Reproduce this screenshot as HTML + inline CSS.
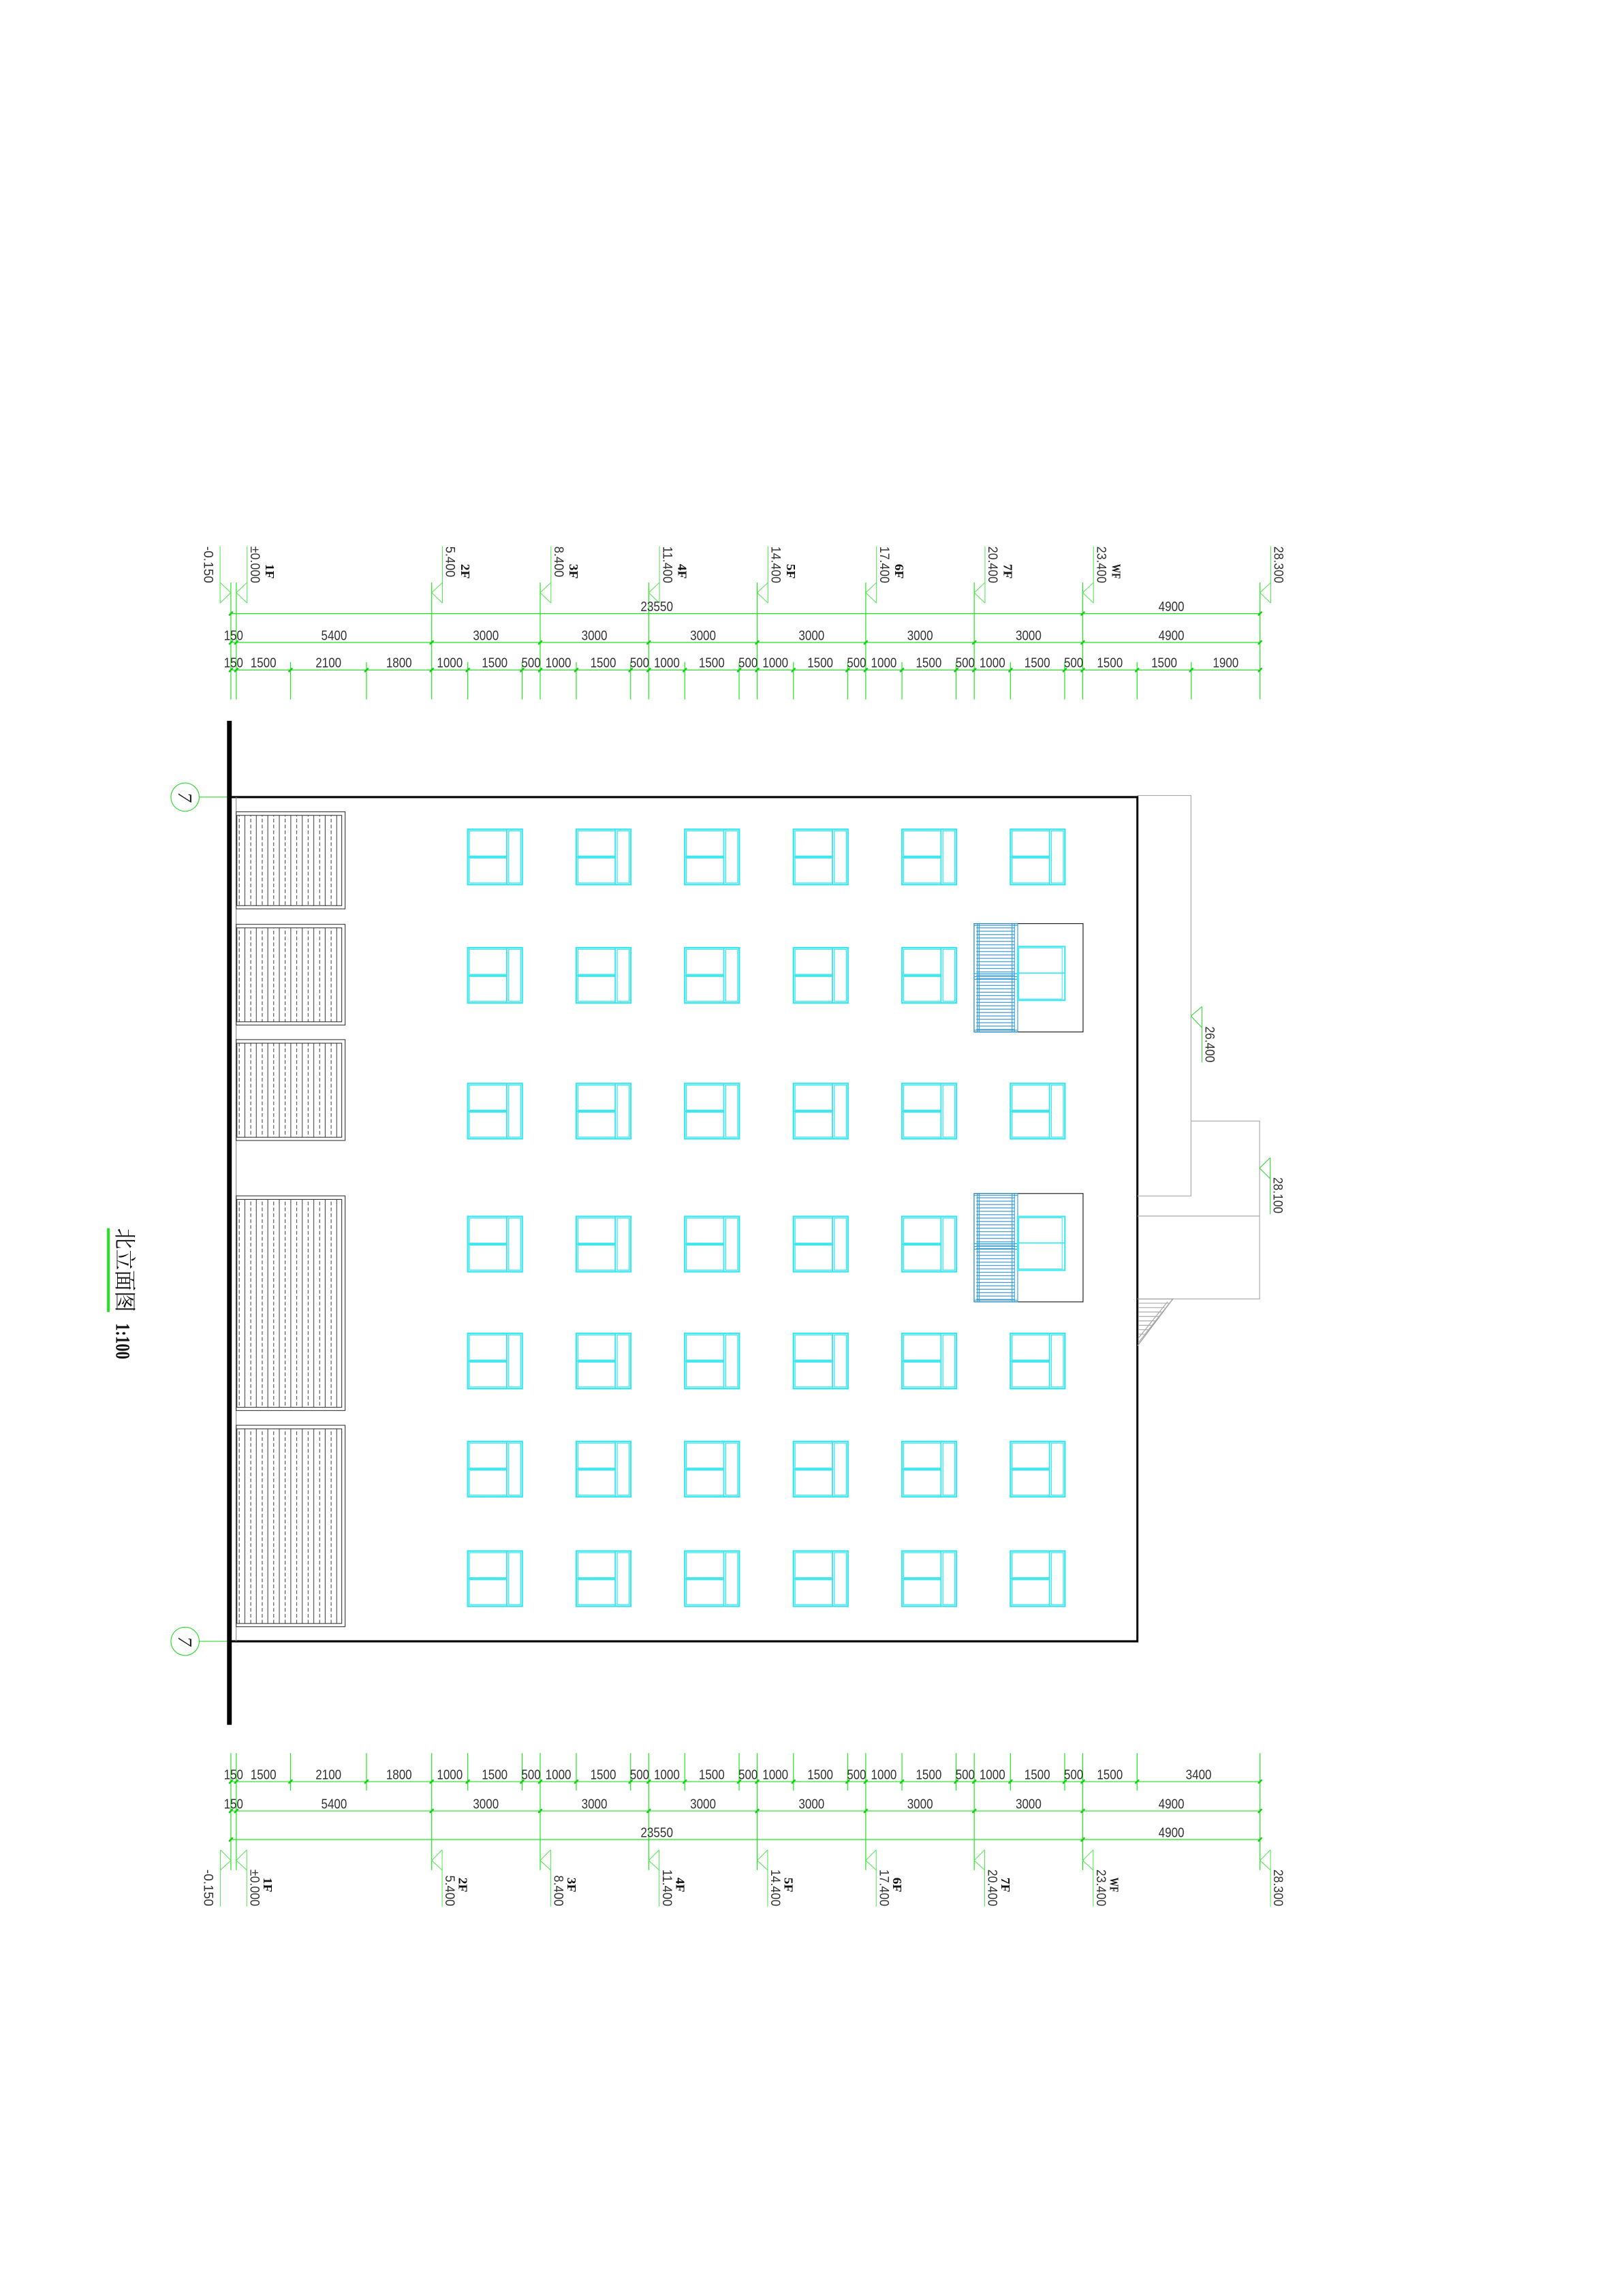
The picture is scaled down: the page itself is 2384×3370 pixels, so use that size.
<!DOCTYPE html>
<html><head><meta charset="utf-8"><style>
html,body{margin:0;padding:0;background:#fff;}
svg{display:block;}
.d{font-family:"Liberation Sans",sans-serif;font-size:9.5px;fill:#333;text-anchor:middle;}
.l{font-family:"Liberation Sans",sans-serif;font-size:9px;fill:#333;}
.f{font-family:"Liberation Serif",serif;font-size:8.5px;font-weight:bold;fill:#111;}
</style></head><body>
<svg width="2384" height="3370" viewBox="0 0 1103 1559.2" preserveAspectRatio="none" xmlns="http://www.w3.org/2000/svg">
<defs>
<path id="t" d="M-1.3,1.3L1.3,-1.3" stroke="#10d010" stroke-width="1.1"/>
<pattern id="lv" patternUnits="userSpaceOnUse" x="162.2" y="0" width="7.8" height="4">
<line x1="0.3" y1="0" x2="0.3" y2="2.5" stroke="#333" stroke-width="0.45"/>
<line x1="4.1" y1="0" x2="4.1" y2="4" stroke="#555" stroke-width="0.55"/>
</pattern>
<pattern id="bh" patternUnits="userSpaceOnUse" x="0" y="0" width="10" height="2.3">
<line x1="0" y1="0.6" x2="10" y2="0.6" stroke="#2a8fd0" stroke-width="0.55"/>
</pattern>
<g id="w" fill="none" stroke="#3ee6ee">
<rect x="0" y="0" width="37" height="37.5" stroke-width="1.1"/>
<rect x="1.1" y="1.1" width="25.4" height="17" stroke-width="0.6"/>
<rect x="1.1" y="19.5" width="25.4" height="16.9" stroke-width="0.6"/>
<line x1="26.5" y1="0" x2="26.5" y2="37.5" stroke-width="0.9"/>
<line x1="0" y1="18.8" x2="26.5" y2="18.8" stroke-width="0.9"/>
<rect x="27.8" y="1.1" width="8.1" height="35.3" stroke-width="0.6"/>
</g>
<g id="b">
<rect x="0" y="0" width="74" height="73.6" fill="none" stroke="#222" stroke-width="0.55"/>
<rect x="1.5" y="1" width="26" height="71.6" fill="url(#bh)"/>
<g fill="none" stroke="#2a9ad8" stroke-width="0.5">
<rect x="0" y="0" width="29.6" height="73.6"/>
<line x1="2.2" y1="0" x2="2.2" y2="73.6"/><line x1="3.4" y1="0" x2="3.4" y2="73.6"/>
<line x1="25.8" y1="0" x2="25.8" y2="73.6"/><line x1="27.4" y1="0" x2="27.4" y2="73.6"/>
<line x1="0" y1="34" x2="29.6" y2="34"/><line x1="0" y1="36" x2="29.6" y2="36"/>
<line x1="0" y1="37.8" x2="29.6" y2="37.8"/><line x1="0" y1="1.2" x2="29.6" y2="1.2"/><line x1="0" y1="72.4" x2="29.6" y2="72.4"/>
</g>
<g fill="none" stroke="#3ee6ee">
<rect x="29.6" y="15.6" width="32.1" height="36.5" stroke-width="1"/>
<rect x="30.4" y="16.5" width="29.4" height="34.7" stroke-width="0.5"/>
<line x1="29.6" y1="33.6" x2="61.7" y2="33.6" stroke-width="0.8"/>
</g>
</g>
</defs>

<!-- title -->
<line x1="73.6" y1="834" x2="73.6" y2="891" stroke="#1ee61e" stroke-width="1.8"/>
<text transform="translate(79.5,834) rotate(90)" style="font-family:'Noto Serif CJK SC','Liberation Serif',serif;font-size:15px;fill:#111" textLength="57" lengthAdjust="spacingAndGlyphs">北立面图</text>
<text transform="translate(79,898.5) rotate(90)" style="font-family:'Liberation Serif',serif;font-size:13.5px;font-weight:bold;fill:#111" textLength="24.5" lengthAdjust="spacingAndGlyphs">1:100</text>

<!-- axis circles -->
<g fill="none" stroke="#30d830" stroke-width="0.55">
<circle cx="125.7" cy="541.3" r="9.6"/><line x1="135.3" y1="541.3" x2="155.8" y2="541.3"/>
<circle cx="125.7" cy="1114.6" r="9.6"/><line x1="135.3" y1="1114.6" x2="155.8" y2="1114.6"/>
</g>
<text transform="translate(121.2,541.3) rotate(90)" style="font-family:'Liberation Serif',serif;font-style:italic;font-size:13px;fill:#222;text-anchor:middle">7</text>
<text transform="translate(121.2,1114.6) rotate(90)" style="font-family:'Liberation Serif',serif;font-style:italic;font-size:13px;fill:#222;text-anchor:middle">7</text>

<!-- building -->
<line x1="155.8" y1="489.5" x2="155.8" y2="1171.3" stroke="#000" stroke-width="3.2"/>
<path d="M155.8,541.3H772.5V1114.6H155.8" fill="none" stroke="#000" stroke-width="1.4"/>
<line x1="160.4" y1="541.3" x2="160.4" y2="1114.6" stroke="#888" stroke-width="0.5"/>

<!-- right gray outline -->
<g fill="none" stroke="#aaa" stroke-width="0.55">
<path d="M772.5,540.2H808.9V812.2H772.5"/>
<path d="M808.9,761.3H855.5V882.1H772.5"/>
<path d="M772.5,825.8H855.5"/>
<path d="M772.5,882.1L796.6,882.1L772.5,914" stroke="#999"/>
<path d="M795,884L773,912M793,884L773,909"/>
<path d="M773,885H794M773,888H791M773,891H789M773,894H787M773,897H785M773,900H782M773,903H780M773,906H777"/>
</g>
<g fill="none" stroke="#30d830" stroke-width="0.5">
<path d="M808.9,690L816.3,683.6M808.9,690L816.3,697.8M816.3,683.6V721.5"/>
<path d="M855.5,793.3L862.7,786.2M855.5,793.3L862.7,800.4M862.7,786.2V824.6"/>
</g>
<text class="l" transform="translate(818.8,697) rotate(90)" textLength="24.5" lengthAdjust="spacingAndGlyphs">26.400</text>
<text class="l" transform="translate(865,799.5) rotate(90)" textLength="24.5" lengthAdjust="spacingAndGlyphs">28.100</text>

<!-- louvers -->
<g stroke="#333" stroke-width="0.5">
<rect x="160.4" y="551.3" width="74" height="65.9" fill="none"/><rect x="160.9" y="553.7" width="71.2" height="61.3" fill="url(#lv)"/>
<rect x="160.4" y="627.7" width="74" height="68.4" fill="none"/><rect x="160.9" y="630.1" width="71.2" height="63.8" fill="url(#lv)"/>
<rect x="160.4" y="706.0" width="74" height="68.5" fill="none"/><rect x="160.9" y="708.4" width="71.2" height="63.9" fill="url(#lv)"/>
<rect x="160.4" y="812.1" width="74" height="145.8" fill="none"/><rect x="160.9" y="814.5" width="71.2" height="141.2" fill="url(#lv)"/>
<rect x="160.4" y="967.9" width="74" height="136.8" fill="none"/><rect x="160.9" y="970.3" width="71.2" height="132.2" fill="url(#lv)"/>
</g>

<!-- windows -->
<g>
<use href="#w" x="317.7" y="563.2"/><use href="#w" x="391.4" y="563.2"/><use href="#w" x="465.1" y="563.2"/><use href="#w" x="538.9" y="563.2"/><use href="#w" x="612.6" y="563.2"/><use href="#w" x="686.3" y="563.2"/>
<use href="#w" x="317.7" y="643.6"/><use href="#w" x="391.4" y="643.6"/><use href="#w" x="465.1" y="643.6"/><use href="#w" x="538.9" y="643.6"/><use href="#w" x="612.6" y="643.6"/>
<use href="#w" x="317.7" y="735.8"/><use href="#w" x="391.4" y="735.8"/><use href="#w" x="465.1" y="735.8"/><use href="#w" x="538.9" y="735.8"/><use href="#w" x="612.6" y="735.8"/><use href="#w" x="686.3" y="735.8"/>
<use href="#w" x="317.7" y="826.1"/><use href="#w" x="391.4" y="826.1"/><use href="#w" x="465.1" y="826.1"/><use href="#w" x="538.9" y="826.1"/><use href="#w" x="612.6" y="826.1"/>
<use href="#w" x="317.7" y="905.5"/><use href="#w" x="391.4" y="905.5"/><use href="#w" x="465.1" y="905.5"/><use href="#w" x="538.9" y="905.5"/><use href="#w" x="612.6" y="905.5"/><use href="#w" x="686.3" y="905.5"/>
<use href="#w" x="317.7" y="978.9"/><use href="#w" x="391.4" y="978.9"/><use href="#w" x="465.1" y="978.9"/><use href="#w" x="538.9" y="978.9"/><use href="#w" x="612.6" y="978.9"/><use href="#w" x="686.3" y="978.9"/>
<use href="#w" x="317.7" y="1053.3"/><use href="#w" x="391.4" y="1053.3"/><use href="#w" x="465.1" y="1053.3"/><use href="#w" x="538.9" y="1053.3"/><use href="#w" x="612.6" y="1053.3"/><use href="#w" x="686.3" y="1053.3"/>
<use href="#b" x="661.6" y="627.2"/>
<use href="#b" x="661.6" y="810.5"/>
</g>

<!-- TOP DIMENSIONS -->
<g stroke="#1ee61e" stroke-width="0.55" fill="none">
<path d="M156.8,416.7H855.8M156.8,436.3H855.8M156.8,455H855.8"/>
<path d="M156.8,395.6V475M160.5,395.6V475M293.2,395.6V475M366.9,395.6V475M440.6,395.6V475M514.3,395.6V475M588,395.6V475M661.7,395.6V475M735.4,395.6V475M855.8,395.6V475"/>
<path d="M197.3,449.6V475M248.9,449.6V475M317.7,449.6V475M354.6,449.6V475M391.4,449.6V475M428.3,449.6V475M465.1,449.6V475M502,449.6V475M538.9,449.6V475M575.7,449.6V475M612.6,449.6V475M649.4,449.6V475M686.3,449.6V475M723.1,449.6V475M772.3,449.6V475M809.1,449.6V475"/>
</g>
<g stroke="#5de65d" stroke-width="0.5" fill="none">
<path d="M156.8,402.5L149.5,395.6M156.8,402.5L149.5,409.5M149.5,371V409.5"/>
<path d="M160.5,402.5l7.3,-6.9M160.5,402.5l7.3,7M167.8,371V409.5"/>
<path d="M293.2,402.5l7.3,-6.9M293.2,402.5l7.3,7M300.5,371V409.5"/>
<path d="M366.9,402.5l7.3,-6.9M366.9,402.5l7.3,7M374.2,371V409.5"/>
<path d="M440.6,402.5l7.3,-6.9M440.6,402.5l7.3,7M447.9,371V409.5"/>
<path d="M514.3,402.5l7.3,-6.9M514.3,402.5l7.3,7M521.6,371V409.5"/>
<path d="M588,402.5l7.3,-6.9M588,402.5l7.3,7M595.3,371V409.5"/>
<path d="M661.7,402.5l7.3,-6.9M661.7,402.5l7.3,7M669,371V409.5"/>
<path d="M735.4,402.5l7.3,-6.9M735.4,402.5l7.3,7M742.7,371V409.5"/>
<path d="M855.8,402.5l7.3,-6.9M855.8,402.5l7.3,7M863.1,371V409.5"/>
</g>
<g>
<use href="#t" x="156.8" y="416.7"/><use href="#t" x="735.4" y="416.7"/><use href="#t" x="855.8" y="416.7"/>
<use href="#t" x="156.8" y="436.3"/><use href="#t" x="160.5" y="436.3"/><use href="#t" x="293.2" y="436.3"/><use href="#t" x="366.9" y="436.3"/><use href="#t" x="440.6" y="436.3"/><use href="#t" x="514.3" y="436.3"/><use href="#t" x="588" y="436.3"/><use href="#t" x="661.7" y="436.3"/><use href="#t" x="735.4" y="436.3"/><use href="#t" x="855.8" y="436.3"/>
<use href="#t" x="156.8" y="455"/><use href="#t" x="160.5" y="455"/><use href="#t" x="197.3" y="455"/><use href="#t" x="248.9" y="455"/><use href="#t" x="293.2" y="455"/><use href="#t" x="317.7" y="455"/><use href="#t" x="354.6" y="455"/><use href="#t" x="366.9" y="455"/><use href="#t" x="391.4" y="455"/><use href="#t" x="428.3" y="455"/><use href="#t" x="440.6" y="455"/><use href="#t" x="465.1" y="455"/><use href="#t" x="502" y="455"/><use href="#t" x="514.3" y="455"/><use href="#t" x="538.9" y="455"/><use href="#t" x="575.7" y="455"/><use href="#t" x="588" y="455"/><use href="#t" x="612.6" y="455"/><use href="#t" x="649.4" y="455"/><use href="#t" x="661.7" y="455"/><use href="#t" x="686.3" y="455"/><use href="#t" x="723.1" y="455"/><use href="#t" x="735.4" y="455"/><use href="#t" x="772.3" y="455"/><use href="#t" x="809.1" y="455"/><use href="#t" x="855.8" y="455"/>
</g>
<g>
<text class="l" transform="translate(138.5,371) rotate(90)" textLength="25" lengthAdjust="spacingAndGlyphs">-0.150</text>
<text class="l" transform="translate(170.2,371) rotate(90)" textLength="25" lengthAdjust="spacingAndGlyphs">±0.000</text>
<text class="f" transform="translate(180.5,383) rotate(90)" textLength="10" lengthAdjust="spacingAndGlyphs">1F</text>
<text class="l" transform="translate(302.9,371) rotate(90)" textLength="21" lengthAdjust="spacingAndGlyphs">5.400</text>
<text class="f" transform="translate(313.2,383) rotate(90)" textLength="10" lengthAdjust="spacingAndGlyphs">2F</text>
<text class="l" transform="translate(376.6,371) rotate(90)" textLength="21" lengthAdjust="spacingAndGlyphs">8.400</text>
<text class="f" transform="translate(386.9,383) rotate(90)" textLength="10" lengthAdjust="spacingAndGlyphs">3F</text>
<text class="l" transform="translate(450.3,371) rotate(90)" textLength="25" lengthAdjust="spacingAndGlyphs">11.400</text>
<text class="f" transform="translate(460.6,383) rotate(90)" textLength="10" lengthAdjust="spacingAndGlyphs">4F</text>
<text class="l" transform="translate(524,371) rotate(90)" textLength="25" lengthAdjust="spacingAndGlyphs">14.400</text>
<text class="f" transform="translate(534.3,383) rotate(90)" textLength="10" lengthAdjust="spacingAndGlyphs">5F</text>
<text class="l" transform="translate(597.7,371) rotate(90)" textLength="25" lengthAdjust="spacingAndGlyphs">17.400</text>
<text class="f" transform="translate(608,383) rotate(90)" textLength="10" lengthAdjust="spacingAndGlyphs">6F</text>
<text class="l" transform="translate(671.4,371) rotate(90)" textLength="25" lengthAdjust="spacingAndGlyphs">20.400</text>
<text class="f" transform="translate(681.7,383) rotate(90)" textLength="10" lengthAdjust="spacingAndGlyphs">7F</text>
<text class="l" transform="translate(745.1,371) rotate(90)" textLength="25" lengthAdjust="spacingAndGlyphs">23.400</text>
<text class="f" transform="translate(755.4,383) rotate(90)" textLength="10" lengthAdjust="spacingAndGlyphs">WF</text>
<text class="l" transform="translate(865.5,371) rotate(90)" textLength="25" lengthAdjust="spacingAndGlyphs">28.300</text>
</g>
<g>
<text class="d" x="446.1" y="415" textLength="22" lengthAdjust="spacingAndGlyphs">23550</text>
<text class="d" x="795.6" y="415" textLength="17.5" lengthAdjust="spacingAndGlyphs">4900</text>
<text class="d" x="158.6" y="434.6" textLength="13" lengthAdjust="spacingAndGlyphs">150</text>
<text class="d" x="226.9" y="434.6" textLength="17.5" lengthAdjust="spacingAndGlyphs">5400</text>
<text class="d" x="330" y="434.6" textLength="17.5" lengthAdjust="spacingAndGlyphs">3000</text>
<text class="d" x="403.7" y="434.6" textLength="17.5" lengthAdjust="spacingAndGlyphs">3000</text>
<text class="d" x="477.5" y="434.6" textLength="17.5" lengthAdjust="spacingAndGlyphs">3000</text>
<text class="d" x="551.2" y="434.6" textLength="17.5" lengthAdjust="spacingAndGlyphs">3000</text>
<text class="d" x="624.9" y="434.6" textLength="17.5" lengthAdjust="spacingAndGlyphs">3000</text>
<text class="d" x="698.6" y="434.6" textLength="17.5" lengthAdjust="spacingAndGlyphs">3000</text>
<text class="d" x="795.6" y="434.6" textLength="17.5" lengthAdjust="spacingAndGlyphs">4900</text>
<text class="d" x="158.6" y="453.3" textLength="13" lengthAdjust="spacingAndGlyphs">150</text>
<text class="d" x="178.9" y="453.3" textLength="17.5" lengthAdjust="spacingAndGlyphs">1500</text>
<text class="d" x="223.1" y="453.3" textLength="17.5" lengthAdjust="spacingAndGlyphs">2100</text>
<text class="d" x="271" y="453.3" textLength="17.5" lengthAdjust="spacingAndGlyphs">1800</text>
<text class="d" x="305.5" y="453.3" textLength="17.5" lengthAdjust="spacingAndGlyphs">1000</text><text class="d" x="336" y="453.3" textLength="17.5" lengthAdjust="spacingAndGlyphs">1500</text><text class="d" x="360.7" y="453.3" textLength="13" lengthAdjust="spacingAndGlyphs">500</text>
<text class="d" x="379.2" y="453.3" textLength="17.5" lengthAdjust="spacingAndGlyphs">1000</text><text class="d" x="409.7" y="453.3" textLength="17.5" lengthAdjust="spacingAndGlyphs">1500</text><text class="d" x="434.4" y="453.3" textLength="13" lengthAdjust="spacingAndGlyphs">500</text>
<text class="d" x="452.9" y="453.3" textLength="17.5" lengthAdjust="spacingAndGlyphs">1000</text><text class="d" x="483.4" y="453.3" textLength="17.5" lengthAdjust="spacingAndGlyphs">1500</text><text class="d" x="508.1" y="453.3" textLength="13" lengthAdjust="spacingAndGlyphs">500</text>
<text class="d" x="526.6" y="453.3" textLength="17.5" lengthAdjust="spacingAndGlyphs">1000</text><text class="d" x="557.1" y="453.3" textLength="17.5" lengthAdjust="spacingAndGlyphs">1500</text><text class="d" x="581.8" y="453.3" textLength="13" lengthAdjust="spacingAndGlyphs">500</text>
<text class="d" x="600.3" y="453.3" textLength="17.5" lengthAdjust="spacingAndGlyphs">1000</text><text class="d" x="630.8" y="453.3" textLength="17.5" lengthAdjust="spacingAndGlyphs">1500</text><text class="d" x="655.5" y="453.3" textLength="13" lengthAdjust="spacingAndGlyphs">500</text>
<text class="d" x="674" y="453.3" textLength="17.5" lengthAdjust="spacingAndGlyphs">1000</text><text class="d" x="704.5" y="453.3" textLength="17.5" lengthAdjust="spacingAndGlyphs">1500</text><text class="d" x="729.2" y="453.3" textLength="13" lengthAdjust="spacingAndGlyphs">500</text>
<text class="d" x="753.8" y="453.3" textLength="17.5" lengthAdjust="spacingAndGlyphs">1500</text>
<text class="d" x="790.7" y="453.3" textLength="17.5" lengthAdjust="spacingAndGlyphs">1500</text>
<text class="d" x="832.5" y="453.3" textLength="17.5" lengthAdjust="spacingAndGlyphs">1900</text>
</g>

<!-- BOTTOM DIMENSIONS -->
<g stroke="#1ee61e" stroke-width="0.55" fill="none">
<path d="M156.8,1209.9H855.8M156.8,1229.8H855.8M156.8,1249.2H855.8"/>
<path d="M156.8,1190.5V1270M160.5,1190.5V1270M293.2,1190.5V1270M366.9,1190.5V1270M440.6,1190.5V1270M514.3,1190.5V1270M588,1190.5V1270M661.7,1190.5V1270M735.4,1190.5V1270M855.8,1190.5V1270"/>
<path d="M197.3,1190.5V1216M248.9,1190.5V1216M317.7,1190.5V1216M354.6,1190.5V1216M391.4,1190.5V1216M428.3,1190.5V1216M465.1,1190.5V1216M502,1190.5V1216M538.9,1190.5V1216M575.7,1190.5V1216M612.6,1190.5V1216M649.4,1190.5V1216M686.3,1190.5V1216M723.1,1190.5V1216M772.3,1190.5V1216"/>
</g>
<g stroke="#5de65d" stroke-width="0.5" fill="none">
<path d="M156.8,1263.4L149.7,1256.2M156.8,1263.4L149.7,1270M149.7,1256.2V1294.7"/>
<path d="M160.5,1263.4l7.1,-7.2M160.5,1263.4l7.1,6.6M167.6,1256.2V1294.7"/>
<path d="M293.2,1263.4l7.1,-7.2M293.2,1263.4l7.1,6.6M300.3,1256.2V1294.7"/>
<path d="M366.9,1263.4l7.1,-7.2M366.9,1263.4l7.1,6.6M374,1256.2V1294.7"/>
<path d="M440.6,1263.4l7.1,-7.2M440.6,1263.4l7.1,6.6M447.7,1256.2V1294.7"/>
<path d="M514.3,1263.4l7.1,-7.2M514.3,1263.4l7.1,6.6M521.4,1256.2V1294.7"/>
<path d="M588,1263.4l7.1,-7.2M588,1263.4l7.1,6.6M595.1,1256.2V1294.7"/>
<path d="M661.7,1263.4l7.1,-7.2M661.7,1263.4l7.1,6.6M668.8,1256.2V1294.7"/>
<path d="M735.4,1263.4l7.1,-7.2M735.4,1263.4l7.1,6.6M742.5,1256.2V1294.7"/>
<path d="M855.8,1263.4l7.1,-7.2M855.8,1263.4l7.1,6.6M862.9,1256.2V1294.7"/>
</g>
<g>
<use href="#t" x="156.8" y="1249.2"/><use href="#t" x="735.4" y="1249.2"/><use href="#t" x="855.8" y="1249.2"/>
<use href="#t" x="156.8" y="1229.8"/><use href="#t" x="160.5" y="1229.8"/><use href="#t" x="293.2" y="1229.8"/><use href="#t" x="366.9" y="1229.8"/><use href="#t" x="440.6" y="1229.8"/><use href="#t" x="514.3" y="1229.8"/><use href="#t" x="588" y="1229.8"/><use href="#t" x="661.7" y="1229.8"/><use href="#t" x="735.4" y="1229.8"/><use href="#t" x="855.8" y="1229.8"/>
<use href="#t" x="156.8" y="1209.9"/><use href="#t" x="160.5" y="1209.9"/><use href="#t" x="197.3" y="1209.9"/><use href="#t" x="248.9" y="1209.9"/><use href="#t" x="293.2" y="1209.9"/><use href="#t" x="317.7" y="1209.9"/><use href="#t" x="354.6" y="1209.9"/><use href="#t" x="366.9" y="1209.9"/><use href="#t" x="391.4" y="1209.9"/><use href="#t" x="428.3" y="1209.9"/><use href="#t" x="440.6" y="1209.9"/><use href="#t" x="465.1" y="1209.9"/><use href="#t" x="502" y="1209.9"/><use href="#t" x="514.3" y="1209.9"/><use href="#t" x="538.9" y="1209.9"/><use href="#t" x="575.7" y="1209.9"/><use href="#t" x="588" y="1209.9"/><use href="#t" x="612.6" y="1209.9"/><use href="#t" x="649.4" y="1209.9"/><use href="#t" x="661.7" y="1209.9"/><use href="#t" x="686.3" y="1209.9"/><use href="#t" x="723.1" y="1209.9"/><use href="#t" x="735.4" y="1209.9"/><use href="#t" x="772.3" y="1209.9"/><use href="#t" x="855.8" y="1209.9"/>
</g>
<g>
<text class="l" transform="translate(138.5,1294.5) rotate(90)" text-anchor="end" textLength="25" lengthAdjust="spacingAndGlyphs">-0.150</text>
<text class="l" transform="translate(170,1294.5) rotate(90)" text-anchor="end" textLength="25" lengthAdjust="spacingAndGlyphs">±0.000</text>
<text class="f" transform="translate(179,1285) rotate(90)" text-anchor="end" textLength="10" lengthAdjust="spacingAndGlyphs">1F</text>
<text class="l" transform="translate(302.7,1294.5) rotate(90)" text-anchor="end" textLength="21" lengthAdjust="spacingAndGlyphs">5.400</text>
<text class="f" transform="translate(311.7,1285) rotate(90)" text-anchor="end" textLength="10" lengthAdjust="spacingAndGlyphs">2F</text>
<text class="l" transform="translate(376.4,1294.5) rotate(90)" text-anchor="end" textLength="21" lengthAdjust="spacingAndGlyphs">8.400</text>
<text class="f" transform="translate(385.4,1285) rotate(90)" text-anchor="end" textLength="10" lengthAdjust="spacingAndGlyphs">3F</text>
<text class="l" transform="translate(450.1,1294.5) rotate(90)" text-anchor="end" textLength="25" lengthAdjust="spacingAndGlyphs">11.400</text>
<text class="f" transform="translate(459.1,1285) rotate(90)" text-anchor="end" textLength="10" lengthAdjust="spacingAndGlyphs">4F</text>
<text class="l" transform="translate(523.8,1294.5) rotate(90)" text-anchor="end" textLength="25" lengthAdjust="spacingAndGlyphs">14.400</text>
<text class="f" transform="translate(532.8,1285) rotate(90)" text-anchor="end" textLength="10" lengthAdjust="spacingAndGlyphs">5F</text>
<text class="l" transform="translate(597.5,1294.5) rotate(90)" text-anchor="end" textLength="25" lengthAdjust="spacingAndGlyphs">17.400</text>
<text class="f" transform="translate(606.5,1285) rotate(90)" text-anchor="end" textLength="10" lengthAdjust="spacingAndGlyphs">6F</text>
<text class="l" transform="translate(671.2,1294.5) rotate(90)" text-anchor="end" textLength="25" lengthAdjust="spacingAndGlyphs">20.400</text>
<text class="f" transform="translate(680.2,1285) rotate(90)" text-anchor="end" textLength="10" lengthAdjust="spacingAndGlyphs">7F</text>
<text class="l" transform="translate(744.9,1294.5) rotate(90)" text-anchor="end" textLength="25" lengthAdjust="spacingAndGlyphs">23.400</text>
<text class="f" transform="translate(753.9,1285) rotate(90)" text-anchor="end" textLength="10" lengthAdjust="spacingAndGlyphs">WF</text>
<text class="l" transform="translate(865.3,1294.5) rotate(90)" text-anchor="end" textLength="25" lengthAdjust="spacingAndGlyphs">28.300</text>
</g>
<g>
<text class="d" x="158.6" y="1208.2" textLength="13" lengthAdjust="spacingAndGlyphs">150</text>
<text class="d" x="178.9" y="1208.2" textLength="17.5" lengthAdjust="spacingAndGlyphs">1500</text>
<text class="d" x="223.1" y="1208.2" textLength="17.5" lengthAdjust="spacingAndGlyphs">2100</text>
<text class="d" x="271" y="1208.2" textLength="17.5" lengthAdjust="spacingAndGlyphs">1800</text>
<text class="d" x="305.5" y="1208.2" textLength="17.5" lengthAdjust="spacingAndGlyphs">1000</text><text class="d" x="336" y="1208.2" textLength="17.5" lengthAdjust="spacingAndGlyphs">1500</text><text class="d" x="360.7" y="1208.2" textLength="13" lengthAdjust="spacingAndGlyphs">500</text>
<text class="d" x="379.2" y="1208.2" textLength="17.5" lengthAdjust="spacingAndGlyphs">1000</text><text class="d" x="409.7" y="1208.2" textLength="17.5" lengthAdjust="spacingAndGlyphs">1500</text><text class="d" x="434.4" y="1208.2" textLength="13" lengthAdjust="spacingAndGlyphs">500</text>
<text class="d" x="452.9" y="1208.2" textLength="17.5" lengthAdjust="spacingAndGlyphs">1000</text><text class="d" x="483.4" y="1208.2" textLength="17.5" lengthAdjust="spacingAndGlyphs">1500</text><text class="d" x="508.1" y="1208.2" textLength="13" lengthAdjust="spacingAndGlyphs">500</text>
<text class="d" x="526.6" y="1208.2" textLength="17.5" lengthAdjust="spacingAndGlyphs">1000</text><text class="d" x="557.1" y="1208.2" textLength="17.5" lengthAdjust="spacingAndGlyphs">1500</text><text class="d" x="581.8" y="1208.2" textLength="13" lengthAdjust="spacingAndGlyphs">500</text>
<text class="d" x="600.3" y="1208.2" textLength="17.5" lengthAdjust="spacingAndGlyphs">1000</text><text class="d" x="630.8" y="1208.2" textLength="17.5" lengthAdjust="spacingAndGlyphs">1500</text><text class="d" x="655.5" y="1208.2" textLength="13" lengthAdjust="spacingAndGlyphs">500</text>
<text class="d" x="674" y="1208.2" textLength="17.5" lengthAdjust="spacingAndGlyphs">1000</text><text class="d" x="704.5" y="1208.2" textLength="17.5" lengthAdjust="spacingAndGlyphs">1500</text><text class="d" x="729.2" y="1208.2" textLength="13" lengthAdjust="spacingAndGlyphs">500</text>
<text class="d" x="753.8" y="1208.2" textLength="17.5" lengthAdjust="spacingAndGlyphs">1500</text>
<text class="d" x="814.1" y="1208.2" textLength="17.5" lengthAdjust="spacingAndGlyphs">3400</text>
<text class="d" x="158.6" y="1228.1" textLength="13" lengthAdjust="spacingAndGlyphs">150</text>
<text class="d" x="226.9" y="1228.1" textLength="17.5" lengthAdjust="spacingAndGlyphs">5400</text>
<text class="d" x="330" y="1228.1" textLength="17.5" lengthAdjust="spacingAndGlyphs">3000</text>
<text class="d" x="403.7" y="1228.1" textLength="17.5" lengthAdjust="spacingAndGlyphs">3000</text>
<text class="d" x="477.5" y="1228.1" textLength="17.5" lengthAdjust="spacingAndGlyphs">3000</text>
<text class="d" x="551.2" y="1228.1" textLength="17.5" lengthAdjust="spacingAndGlyphs">3000</text>
<text class="d" x="624.9" y="1228.1" textLength="17.5" lengthAdjust="spacingAndGlyphs">3000</text>
<text class="d" x="698.6" y="1228.1" textLength="17.5" lengthAdjust="spacingAndGlyphs">3000</text>
<text class="d" x="795.6" y="1228.1" textLength="17.5" lengthAdjust="spacingAndGlyphs">4900</text>
<text class="d" x="446.1" y="1247.5" textLength="22" lengthAdjust="spacingAndGlyphs">23550</text>
<text class="d" x="795.6" y="1247.5" textLength="17.5" lengthAdjust="spacingAndGlyphs">4900</text>
</g>
</svg>
</body></html>
